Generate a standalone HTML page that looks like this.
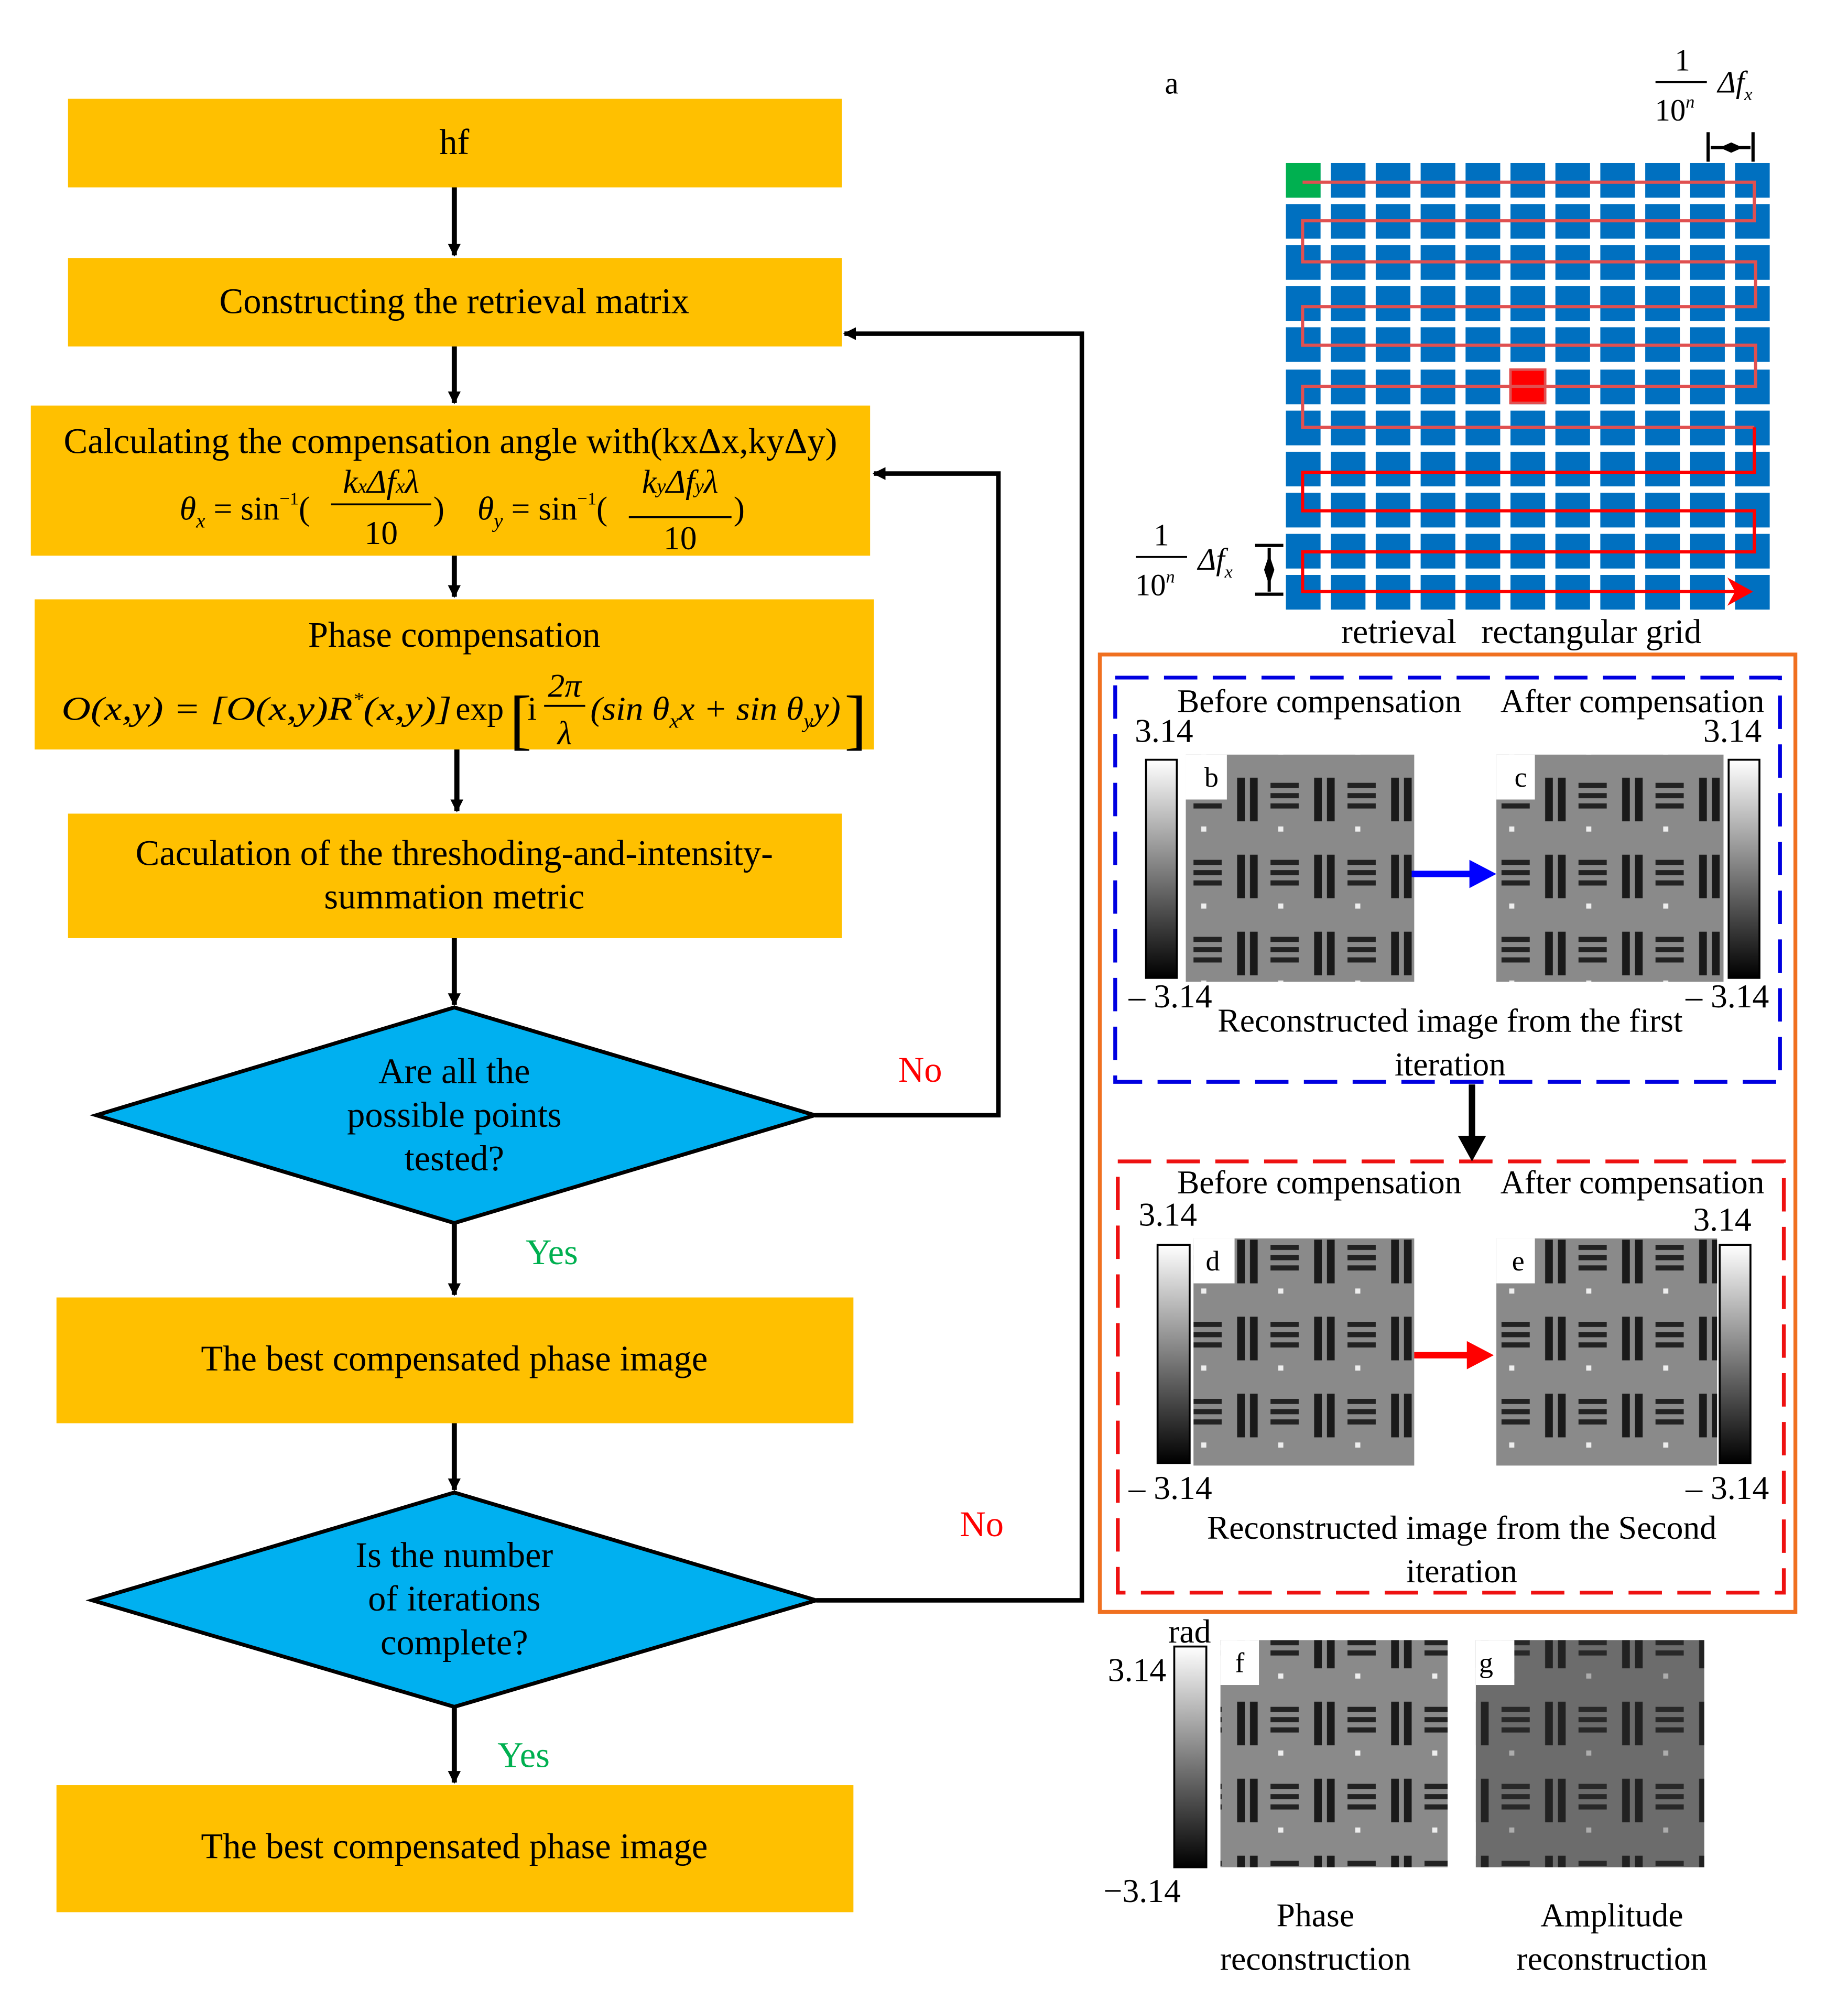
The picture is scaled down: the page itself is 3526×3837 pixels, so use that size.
<!DOCTYPE html>
<html><head><meta charset="utf-8"><style>html,body{margin:0;padding:0;background:#fff}svg{display:block}</style></head>
<body>
<svg width="3526" height="3837" viewBox="0 0 1440 1567" xmlns="http://www.w3.org/2000/svg" font-family="Liberation Serif, serif">
<defs>
<marker id="ah" markerWidth="10" markerHeight="10" refX="9" refY="5" orient="auto" markerUnits="userSpaceOnUse"><path d="M0,0 L10,5 L0,10 Z" fill="#000"/></marker>
<linearGradient id="cb" x1="0" y1="0" x2="0" y2="1"><stop offset="0" stop-color="#fff"/><stop offset="1" stop-color="#000"/></linearGradient>
<pattern id="img" width="60" height="60" patternUnits="userSpaceOnUse">
<rect width="60" height="60" fill="#8a8a8a"/>
<rect x="4" y="6" width="6" height="34" fill="#1a1a1a"/><rect x="14" y="6" width="6" height="34" fill="#1a1a1a"/>
<rect x="30" y="10" width="22" height="4" fill="#222"/><rect x="30" y="18" width="22" height="4" fill="#222"/><rect x="30" y="26" width="22" height="4" fill="#222"/>
<rect x="36" y="44" width="4" height="4" fill="#eee"/>
</pattern>
<g id="row" fill="#0070C0">
<rect x="1002" y="0" width="27" height="27"/><rect x="1037" y="0" width="27" height="27"/><rect x="1072" y="0" width="27" height="27"/><rect x="1107" y="0" width="27" height="27"/><rect x="1142" y="0" width="27" height="27"/><rect x="1177" y="0" width="27" height="27"/><rect x="1212" y="0" width="27" height="27"/><rect x="1247" y="0" width="27" height="27"/><rect x="1282" y="0" width="27" height="27"/><rect x="1317" y="0" width="27" height="27"/><rect x="1352" y="0" width="27" height="27"/>
</g>
</defs>
<g font-size="28" text-anchor="middle" fill="#000">
<rect x="53" y="77" width="603" height="69" fill="#FFC000"/><text x="354" y="120">hf</text>
<rect x="53" y="201" width="603" height="69" fill="#FFC000"/><text x="354" y="244">Constructing the retrieval matrix</text>
<rect x="24" y="316" width="654" height="117" fill="#FFC000"/><text x="351" y="353">Calculating the compensation angle with(kxΔx,kyΔy)</text>
<text x="140" y="405" text-anchor="start" font-style="italic" font-size="26">θ<tspan font-size="16" dy="6">x</tspan><tspan dy="-6" font-style="normal"> = sin</tspan><tspan font-size="14" dy="-12" font-style="normal">−1</tspan><tspan dy="12" font-style="normal">(</tspan></text>
<text x="297" y="384" font-style="italic" font-size="26">k<tspan font-size="16">x</tspan>Δf<tspan font-size="16">x</tspan>λ</text>
<line x1="258" y1="393" x2="336" y2="393" stroke="#000" stroke-width="1.5"/><text x="297" y="424" font-size="26">10</text><text x="342" y="405" font-size="26">)</text>
<text x="372" y="405" text-anchor="start" font-style="italic" font-size="26">θ<tspan font-size="16" dy="6">y</tspan><tspan dy="-6" font-style="normal"> = sin</tspan><tspan font-size="14" dy="-12" font-style="normal">−1</tspan><tspan dy="12" font-style="normal">(</tspan></text>
<text x="530" y="384" font-style="italic" font-size="26">k<tspan font-size="16">y</tspan>Δf<tspan font-size="16">y</tspan>λ</text>
<line x1="490" y1="403" x2="570" y2="403" stroke="#000" stroke-width="1.5"/><text x="530" y="428" font-size="26">10</text><text x="576" y="405" font-size="26">)</text>
<rect x="27" y="467" width="654" height="117" fill="#FFC000"/><text x="354" y="504">Phase compensation</text>
<text x="48" y="561" text-anchor="start" font-style="italic" font-size="26" textLength="304" lengthAdjust="spacingAndGlyphs">O(x,y) = [O(x,y)R<tspan font-size="14" dy="-12">*</tspan><tspan dy="12">(x,y)]</tspan></text>
<text x="355" y="561" text-anchor="start" font-size="26">exp</text>
<text x="397" y="578" text-anchor="start" font-size="52" transform="scale(1,1)">[</text>
<text x="411" y="561" text-anchor="start" font-size="26">i</text>
<text x="440" y="543" font-style="italic" font-size="26">2π</text><line x1="424" y1="550" x2="456" y2="550" stroke="#000" stroke-width="1.5"/><text x="440" y="580" font-style="italic" font-size="26">λ</text>
<text x="460" y="561" text-anchor="start" font-style="italic" font-size="26" textLength="195" lengthAdjust="spacingAndGlyphs">(sin θ<tspan font-size="16" dy="6">x</tspan><tspan dy="-6">x + sin θ</tspan><tspan font-size="16" dy="6">y</tspan><tspan dy="-6">y)</tspan></text>
<text x="658" y="578" text-anchor="start" font-size="52">]</text>
<rect x="53" y="634" width="603" height="97" fill="#FFC000"/><text x="354" y="674">Caculation of the threshoding-and-intensity-</text><text x="354" y="708">summation metric</text>
<polygon points="75,869 354,785 635,869 354,953" fill="#00B0F0" stroke="#000" stroke-width="3"/>
<text x="354" y="844">Are all the</text><text x="354" y="878">possible points</text><text x="354" y="912">tested?</text>
<rect x="44" y="1011" width="621" height="98" fill="#FFC000"/><text x="354" y="1068">The best compensated phase image</text>
<polygon points="72,1247 354,1163 636,1247 354,1330" fill="#00B0F0" stroke="#000" stroke-width="3"/>
<text x="354" y="1221">Is the number</text><text x="354" y="1255">of iterations</text><text x="354" y="1289">complete?</text>
<rect x="44" y="1391" width="621" height="99" fill="#FFC000"/><text x="354" y="1448">The best compensated phase image</text>
<text x="430" y="985" fill="#00B050">Yes</text><text x="408" y="1377" fill="#00B050">Yes</text>
<text x="717" y="843" fill="#FF0000">No</text><text x="765" y="1197" fill="#FF0000">No</text>
</g>
<g stroke="#000" stroke-width="4" fill="none" marker-end="url(#ah)">
<line x1="354" y1="146" x2="354" y2="199"/><line x1="354" y1="270" x2="354" y2="314"/><line x1="354" y1="433" x2="354" y2="465"/>
<line x1="356" y1="584" x2="356" y2="632"/><line x1="354" y1="731" x2="354" y2="783"/><line x1="354" y1="953" x2="354" y2="1009"/>
<line x1="354" y1="1109" x2="354" y2="1161"/><line x1="354" y1="1330" x2="354" y2="1389"/>
</g>
<g stroke="#000" stroke-width="3.5" fill="none" marker-end="url(#ah)">
<polyline points="635,869 778,869 778,369 681,369"/>
<polyline points="636,1247 843,1247 843,260 658,260"/>
</g>
<text x="913" y="73" font-size="24" text-anchor="middle">a</text>
<use href="#row" y="127"/><use href="#row" y="159"/><use href="#row" y="191"/><use href="#row" y="223"/><use href="#row" y="255"/><use href="#row" y="288"/><use href="#row" y="320"/><use href="#row" y="352"/><use href="#row" y="384"/><use href="#row" y="416"/><use href="#row" y="448"/>
<rect x="1002" y="127" width="27" height="27" fill="#00B050"/>
<rect x="1177" y="288" width="27" height="26" fill="#FF0000" stroke="#e05050" stroke-width="2"/>
<polyline points="1015,142 1367,142 1367,172 1015,172 1015,204 1368,204 1368,239 1015,239 1015,269 1368,269 1368,301 1015,301 1015,333 1367,333" fill="none" stroke="#e05050" stroke-width="2.5"/>
<polyline points="1367,333 1367,368 1015,368 1015,398 1367,398 1367,430 1015,430 1015,461 1352,461" fill="none" stroke="#f00" stroke-width="2.5"/>
<polygon points="1346,450 1366,461 1346,472 1352,461" fill="#f00"/>
<g font-size="27" text-anchor="middle">
<text x="1090" y="501">retrieval</text><text x="1240" y="501">rectangular grid</text>
<text x="1311" y="55" font-size="24">1</text><line x1="1290" y1="64" x2="1330" y2="64" stroke="#000" stroke-width="1.5"/><text x="1305" y="94" font-size="24">10<tspan font-size="14" dy="-10" font-style="italic">n</tspan></text><text x="1352" y="72" font-style="italic" font-size="24">Δf<tspan font-size="14" dy="6">x</tspan></text>
<text x="905" y="425" font-size="24">1</text><line x1="885" y1="434" x2="925" y2="434" stroke="#000" stroke-width="1.5"/><text x="900" y="464" font-size="24">10<tspan font-size="14" dy="-10" font-style="italic">n</tspan></text><text x="947" y="444" font-style="italic" font-size="24">Δf<tspan font-size="14" dy="6">x</tspan></text>
</g>
<g stroke="#000" stroke-width="2.5"><line x1="1331" y1="103" x2="1331" y2="126"/><line x1="1366" y1="103" x2="1366" y2="126"/><line x1="1333" y1="115" x2="1364" y2="115"/>
<line x1="978" y1="425" x2="1000" y2="425"/><line x1="978" y1="463" x2="1000" y2="463"/><line x1="989" y1="427" x2="989" y2="461"/></g>
<polygon points="1340,115 1349,111 1358,115 1349,119" fill="#000"/>
<polygon points="989,432 993,444 989,456 985,444" fill="#000"/>
<rect x="857" y="510" width="542" height="746" fill="none" stroke="#F07020" stroke-width="3"/>
<rect x="869" y="528" width="518" height="315" fill="none" stroke="#0000E0" stroke-width="3" stroke-dasharray="26,12"/>
<rect x="871" y="905" width="519" height="336" fill="none" stroke="#EE1111" stroke-width="3" stroke-dasharray="26,12"/>
<g fill="url(#img)">
<rect x="924" y="588" width="178" height="177"/><rect x="1166" y="588" width="177" height="177"/>
<rect x="930" y="965" width="172" height="177"/><rect x="1166" y="965" width="172" height="177"/>
<rect x="951" y="1278" width="177" height="177"/><rect x="1150" y="1278" width="178" height="177"/>
</g>
<rect x="1150" y="1278" width="178" height="177" fill="#333" opacity="0.35"/>
<rect x="924" y="588" width="32" height="35" fill="#fff"/><rect x="1166" y="588" width="30" height="35" fill="#fff"/>
<rect x="930" y="965" width="32" height="35" fill="#fff"/><rect x="1166" y="965" width="30" height="35" fill="#fff"/>
<rect x="951" y="1278" width="30" height="35" fill="#fff"/><rect x="1150" y="1278" width="30" height="35" fill="#fff"/>
<g fill="url(#cb)" stroke="#000" stroke-width="1.5">
<rect x="893" y="592" width="24" height="170"/><rect x="1347" y="592" width="24" height="170"/>
<rect x="902" y="970" width="25" height="170"/><rect x="1340" y="970" width="24" height="170"/>
<rect x="915" y="1283" width="25" height="172"/>
</g>
<path d="M1100,681 H1150" stroke="#0000FF" stroke-width="5"/><polygon points="1145,670 1166,681 1145,692" fill="#0000FF"/>
<path d="M1102,1056 H1148" stroke="#FF0000" stroke-width="5"/><polygon points="1143,1045 1164,1056 1143,1067" fill="#FF0000"/>
<path d="M1147,845 V890" stroke="#000" stroke-width="5"/><polygon points="1136,885 1147,905 1158,885" fill="#000"/>
<g font-size="26" text-anchor="middle">
<text x="1028" y="555">Before compensation</text><text x="1272" y="555">After compensation</text>
<text x="907" y="578">3.14</text><text x="1350" y="578">3.14</text>
<text x="944" y="613" font-size="22">b</text><text x="1185" y="613" font-size="22">c</text>
<text x="912" y="785">– 3.14</text><text x="1346" y="785">– 3.14</text>
<text x="1130" y="804">Reconstructed image from the first</text><text x="1130" y="838">iteration</text>
<text x="1028" y="930">Before compensation</text><text x="1272" y="930">After compensation</text>
<text x="910" y="955">3.14</text><text x="1342" y="959">3.14</text>
<text x="945" y="990" font-size="22">d</text><text x="1183" y="990" font-size="22">e</text>
<text x="912" y="1168">– 3.14</text><text x="1346" y="1168">– 3.14</text>
<text x="1139" y="1199">Reconstructed image from the Second</text><text x="1139" y="1233">iteration</text>
<text x="927" y="1280">rad</text><text x="886" y="1310">3.14</text><text x="890" y="1482">−3.14</text>
<text x="966" y="1303" font-size="22">f</text><text x="1158" y="1303" font-size="22">g</text>
<text x="1025" y="1501">Phase</text><text x="1025" y="1535">reconstruction</text>
<text x="1256" y="1501">Amplitude</text><text x="1256" y="1535">reconstruction</text>
</g>
</svg>
</body></html>
